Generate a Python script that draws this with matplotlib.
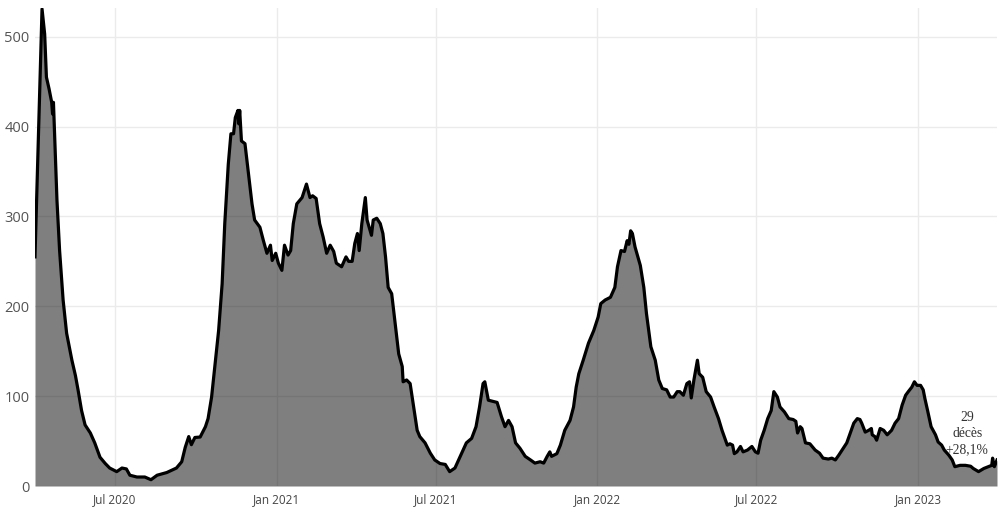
import pandas as pd
import matplotlib.pyplot as plt
import matplotlib.dates as mdates

# Daily hospital deaths (smoothed)
dates = [
    '2020-04-01', '2020-04-09', '2020-04-12', '2020-04-14', '2020-04-17', '2020-04-20', '2020-04-21', '2020-04-22',
    '2020-04-24', '2020-04-26', '2020-04-29', '2020-05-03', '2020-05-07', '2020-05-13', '2020-05-17', '2020-05-20',
    '2020-05-24', '2020-05-28', '2020-06-03', '2020-06-08', '2020-06-14', '2020-06-20', '2020-06-25', '2020-07-03',
    '2020-07-09', '2020-07-14', '2020-07-18', '2020-07-26', '2020-08-04', '2020-08-11', '2020-08-18', '2020-08-29',
    '2020-09-09', '2020-09-15', '2020-09-19', '2020-09-23', '2020-09-26', '2020-09-30', '2020-10-06',
    '2020-10-12', '2020-10-15', '2020-10-19', '2020-10-23', '2020-10-27', '2020-10-31', '2020-11-03', '2020-11-07',
    '2020-11-10', '2020-11-13', '2020-11-15', '2020-11-18', '2020-11-19', '2020-11-20', '2020-11-22', '2020-11-26',
    '2020-11-30', '2020-12-04', '2020-12-07', '2020-12-13', '2020-12-17', '2020-12-21', '2020-12-25', '2020-12-27',
    '2020-12-31', '2021-01-03', '2021-01-07', '2021-01-10', '2021-01-14', '2021-01-17', '2021-01-20', '2021-01-24',
    '2021-01-30', '2021-02-04', '2021-02-08', '2021-02-11', '2021-02-15', '2021-02-19', '2021-02-23', '2021-02-27',
    '2021-03-03', '2021-03-07', '2021-03-10', '2021-03-16', '2021-03-21', '2021-03-24', '2021-03-28', '2021-03-31',
    '2021-04-03', '2021-04-05', '2021-04-08', '2021-04-12',
    '2021-04-14', '2021-04-19', '2021-04-21', '2021-04-25', '2021-04-29', '2021-05-02', '2021-05-05', '2021-05-08',
    '2021-05-12', '2021-05-16', '2021-05-20', '2021-05-24', '2021-05-25', '2021-05-29', '2021-06-02', '2021-06-06',
    '2021-06-10', '2021-06-13', '2021-06-19', '2021-06-25', '2021-06-30', '2021-07-06', '2021-07-12', '2021-07-17',
    '2021-07-23', '2021-07-29', '2021-08-05', '2021-08-11', '2021-08-16', '2021-08-20', '2021-08-24', '2021-08-26',
    '2021-08-30', '2021-09-05', '2021-09-09', '2021-09-14', '2021-09-18', '2021-09-22', '2021-09-26', '2021-09-30',
    '2021-10-05', '2021-10-11', '2021-10-17',
    '2021-10-22', '2021-10-28', '2021-11-01', '2021-11-05', '2021-11-08', '2021-11-10', '2021-11-16', '2021-11-20',
    '2021-11-25', '2021-12-01', '2021-12-05', '2021-12-08', '2021-12-11', '2021-12-16', '2021-12-22', '2021-12-28',
    '2022-01-02', '2022-01-05', '2022-01-10', '2022-01-16', '2022-01-21', '2022-01-24', '2022-01-28', '2022-02-01',
    '2022-02-04', '2022-02-06', '2022-02-08', '2022-02-10', '2022-02-13', '2022-02-19', '2022-02-23', '2022-02-26',
    '2022-03-03', '2022-03-08', '2022-03-12', '2022-03-16', '2022-03-21', '2022-03-25', '2022-03-29', '2022-04-02',
    '2022-04-05', '2022-04-09', '2022-04-13', '2022-04-16', '2022-04-18', '2022-04-21',
    '2022-04-25', '2022-04-27', '2022-05-01', '2022-05-05', '2022-05-10', '2022-05-14', '2022-05-19', '2022-05-23',
    '2022-05-29', '2022-06-01', '2022-06-04', '2022-06-06', '2022-06-09', '2022-06-13', '2022-06-16', '2022-06-21',
    '2022-06-26', '2022-06-30', '2022-07-03', '2022-07-06', '2022-07-10', '2022-07-14', '2022-07-18', '2022-07-21',
    '2022-07-25', '2022-07-28', '2022-08-02', '2022-08-07', '2022-08-12', '2022-08-15', '2022-08-17', '2022-08-20',
    '2022-08-22', '2022-08-26', '2022-08-31', '2022-09-06', '2022-09-11', '2022-09-15', '2022-09-21', '2022-09-25',
    '2022-09-29', '2022-10-03', '2022-10-08', '2022-10-12', '2022-10-16', '2022-10-20', '2022-10-24', '2022-10-27',
    '2022-10-29', '2022-11-02', '2022-11-06', '2022-11-09', '2022-11-10', '2022-11-13', '2022-11-15', '2022-11-19',
    '2022-11-23', '2022-11-27', '2022-12-02', '2022-12-06', '2022-12-10', '2022-12-14', '2022-12-18', '2022-12-21',
    '2022-12-25', '2022-12-28', '2022-12-31', '2023-01-04', '2023-01-07', '2023-01-09', '2023-01-12', '2023-01-16',
    '2023-01-21', '2023-01-24', '2023-01-28', '2023-01-31', '2023-02-05', '2023-02-09', '2023-02-12', '2023-02-18',
    '2023-02-24', '2023-03-02', '2023-03-05', '2023-03-11', '2023-03-17', '2023-03-22', '2023-03-26', '2023-03-27',
    '2023-03-29', '2023-04-01',
]
deaths = [
    255, 531, 503, 455, 442, 427, 414, 427,
    373, 318, 262, 207, 170, 140, 123, 107,
    84, 68, 59, 48, 32, 25, 20, 16,
    20, 19, 12, 10, 10, 7, 12, 15,
    20, 27, 43, 55, 46, 54, 54.5,
    66, 75, 99, 136, 173, 225, 292, 358,
    392, 392, 410, 418, 403, 418, 384, 381,
    348, 314, 296, 288, 273, 259, 268, 251,
    259, 248, 240, 268, 257, 262, 292, 314,
    321, 336, 321, 323, 320, 292, 277, 259,
    268, 261, 248, 244, 255, 250, 250, 270,
    281, 262, 292, 321,
    296, 279, 296, 298, 292, 281, 255, 221,
    214, 181, 147, 133, 116, 118, 114, 88,
    62, 55, 48, 36.5, 29, 25, 24, 16,
    20, 33, 48, 53, 66, 88, 114, 116,
    95.5, 94, 93, 77, 66, 73, 66, 48,
    42, 33, 29,
    25.5, 27, 25.5, 33, 38, 33, 36, 45.5,
    62, 73, 88, 110, 125, 140, 159, 173,
    188, 203, 207, 210, 221, 244, 262, 261,
    273, 269, 284, 281, 266, 245.5, 221, 192,
    155, 140, 118, 108.5, 107, 99, 99, 105,
    105, 101, 114, 116, 98, 118,
    140, 125, 121, 105, 99, 88, 75, 62,
    45.5, 47, 45.5, 36, 38, 44, 38, 40,
    44, 38, 36.5, 51, 62, 75, 84, 105,
    99, 88, 82.5, 75, 74, 72, 59, 66,
    64, 48, 47, 40, 36.5, 31, 30, 31,
    29, 34.5, 42, 48, 59, 70, 75, 74,
    70, 60, 62, 64, 57, 55, 51, 64,
    62, 57, 62, 70, 75, 90, 101, 105,
    110, 116, 112, 112, 107, 97, 84, 66,
    57, 49, 45.5, 40, 34.5, 29, 21.5, 23,
    23, 22, 19.5, 16, 19.5, 21.5, 23, 31,
    21.5, 29,
]

tick_dates = ['2020-07-01', '2021-01-01', '2021-07-01', '2022-01-01', '2022-07-01', '2023-01-01']
tick_labels = ['Jul 2020', 'Jan 2021', 'Jul 2021', 'Jan 2022', 'Jul 2022', 'Jan 2023']
y_ticks = [0, 100, 200, 300, 400, 500]

last_label = '29\ndécès\n+28,1%'
label_date = '2023-02-26'
label_value = 58

x = pd.to_datetime(dates)

fig = plt.figure(figsize=(10, 5.08), dpi=100)
ax = fig.add_axes([0.035, 0.0433, 0.962, 0.9410])

ax.fill_between(x, deaths, 0, color='black', alpha=0.5, linewidth=0, zorder=2)
ax.plot(x, deaths, color='black', linewidth=2.3, solid_joinstyle='round', zorder=3)

ax.set_xlim(pd.Timestamp('2020-04-01'), pd.Timestamp('2023-04-01'))
ax.set_ylim(0, 532)

ax.set_xticks(pd.to_datetime(tick_dates))
ax.set_xticklabels(tick_labels)
ax.set_yticks(y_ticks)

ax.grid(True, color='#ebebeb', linewidth=1)
ax.set_axisbelow(True)
for s in ax.spines.values():
    s.set_visible(False)

ax.tick_params(axis='both', length=0)
ax.tick_params(axis='y', labelsize=10.5, labelcolor='#555555', pad=4)
ax.tick_params(axis='x', labelsize=8.5, labelcolor='#444444', pad=5)
for lab in ax.get_xticklabels() + ax.get_yticklabels():
    lab.set_fontfamily('Open Sans')

ax.text(pd.Timestamp(label_date), label_value, last_label, ha='center', va='center',
        fontsize=9.8, family='Liberation Serif', color='#333333', linespacing=1.3, zorder=4)

plt.savefig('out.png', dpi=100)
